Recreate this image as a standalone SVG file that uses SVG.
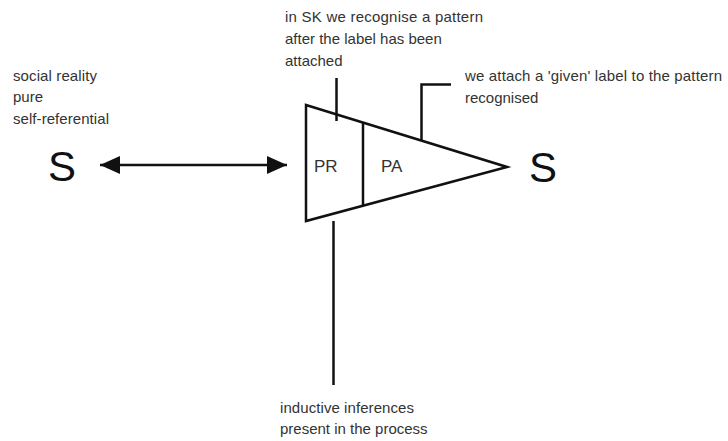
<svg xmlns="http://www.w3.org/2000/svg" width="728" height="441" viewBox="0 0 728 441">
<style>
.t{font-family:"Liberation Sans",Arial,sans-serif;font-size:15px;fill:#333}
.s{font-family:"Liberation Sans",Arial,sans-serif;font-size:42px;fill:#111}
.l{font-family:"Liberation Sans",Arial,sans-serif;font-size:17px;fill:#333}
.ln{stroke:#111;stroke-width:2.5;fill:none}
</style>
<defs>
<marker id="ah" viewBox="0 0 20 18" refX="20" refY="9" markerWidth="20" markerHeight="18" markerUnits="userSpaceOnUse" orient="auto-start-reverse">
<path d="M0,0 L20,9 L0,18 Z" fill="#111"/>
</marker>
</defs>
<rect width="728" height="441" fill="#fff"/>
<g id="social-label">
<text class="t" x="13" y="81" textLength="84">social reality</text>
<text class="t" x="13" y="102">pure</text>
<text class="t" x="13" y="124" textLength="96">self-referential</text>
</g>
<g id="s-left"><text class="s" x="48" y="181">S</text></g>
<g id="s-right"><text class="s" x="529" y="182">S</text></g>
<g id="triangle">
<path class="ln" d="M306,105 L507,167 L306,221 Z" stroke-width="2.8" stroke-linejoin="miter"/>
<line class="ln" x1="363" y1="122.5" x2="363" y2="206"/>
<text class="l" x="314" y="172">PR</text>
<text class="l" x="381" y="172">PA</text>
</g>
<g id="top-label">
<text class="t" x="285" y="22" textLength="198">in SK we recognise a pattern</text>
<text class="t" x="285" y="44">after the label has been</text>
<text class="t" x="285" y="66">attached</text>
</g>
<g id="right-label">
<text class="t" x="465" y="81" textLength="257">we attach a 'given' label to the pattern</text>
<text class="t" x="465" y="103">recognised</text>
</g>
<g id="bottom-label">
<text class="t" x="280" y="413" textLength="134">inductive inferences</text>
<text class="t" x="280" y="434">present in the process</text>
</g>
<g id="connectors">
<line class="ln" x1="100" y1="165" x2="287" y2="165" marker-start="url(#ah)" marker-end="url(#ah)"/>
<line class="ln" x1="336.5" y1="78" x2="336.5" y2="121"/>
<polyline class="ln" points="451,84.5 421.5,84.5 421.5,141"/>
<line class="ln" x1="333.5" y1="221" x2="333.5" y2="385"/>
</g>
</svg>
